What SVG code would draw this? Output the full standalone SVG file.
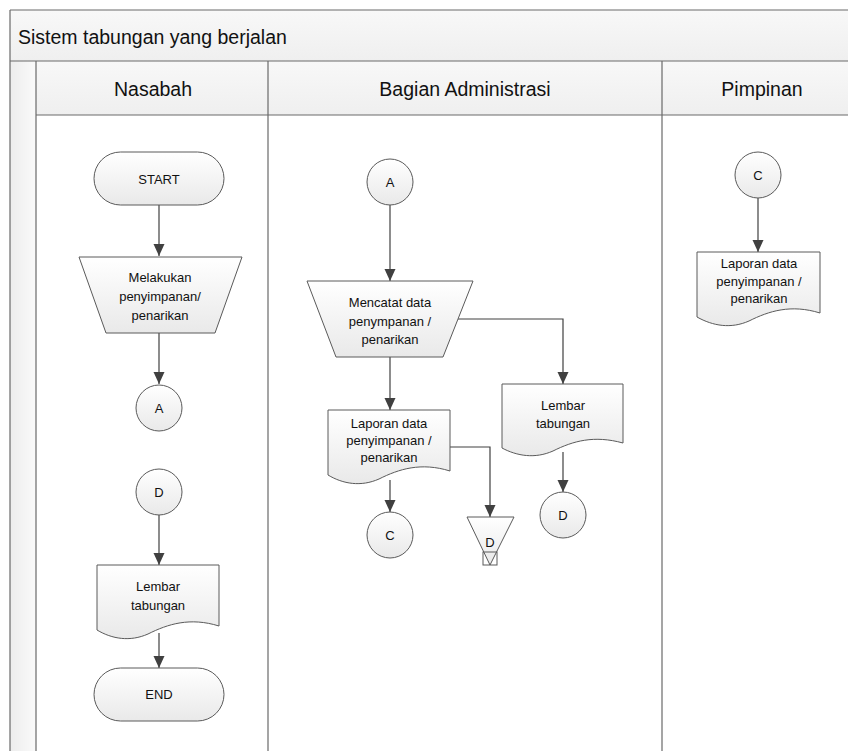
<svg xmlns="http://www.w3.org/2000/svg" width="848" height="751" viewBox="0 0 848 751">
<defs>
<linearGradient id="gShape" x1="0" y1="0" x2="0" y2="1">
<stop offset="0" stop-color="#ffffff"/>
<stop offset="1" stop-color="#e9e9e9"/>
</linearGradient>
<linearGradient id="gBand" x1="0" y1="0" x2="0" y2="1">
<stop offset="0" stop-color="#f8f8f8"/>
<stop offset="1" stop-color="#efefef"/>
</linearGradient>
<linearGradient id="gStrip" x1="0" y1="0" x2="1" y2="0">
<stop offset="0" stop-color="#ededed"/>
<stop offset="1" stop-color="#fafafa"/>
</linearGradient>
<marker id="arr" markerWidth="12" markerHeight="12" refX="12" refY="6" orient="auto" markerUnits="userSpaceOnUse">
<path d="M0,0.5 L12,6 L0,11.5 z" fill="#404040"/>
</marker>
</defs>
<style>
.sh{fill:url(#gShape);stroke:#5a5a5a;stroke-width:1}
.ln{fill:none;stroke:#404040;stroke-width:1.2}
.frame{fill:none;stroke:#6a6a6a;stroke-width:1.2}
.t{font-family:"Liberation Sans",Arial,sans-serif;font-size:13px;fill:#111;text-anchor:middle}
.h{font-family:"Liberation Sans",Arial,sans-serif;font-size:19.5px;fill:#111;text-anchor:middle}
</style>
<rect width="848" height="751" fill="#ffffff"/>
<g id="pool">
<rect x="10" y="10" width="840" height="51" fill="url(#gBand)"/>
<rect x="10" y="61" width="840" height="54" fill="url(#gBand)"/>
<rect x="10" y="61" width="26" height="692" fill="url(#gStrip)"/>
<path class="frame" d="M10,10 H850 M10,61 H850 M36,115 H850 M10,10 V753 M36,61 V753 M268,61 V753 M662,61 V753"/>
<text x="18" y="44" class="h" style="text-anchor:start">Sistem tabungan yang berjalan</text>
<text x="153" y="96" class="h">Nasabah</text>
<text x="465" y="96" class="h">Bagian Administrasi</text>
<text x="762" y="96" class="h">Pimpinan</text>
</g>
<g id="connectors">
<path class="ln" d="M159,205 V256" marker-end="url(#arr)"/>
<path class="ln" d="M159,333 V384" marker-end="url(#arr)"/>
<path class="ln" d="M159,515 V565" marker-end="url(#arr)"/>
<path class="ln" d="M159,633 V668" marker-end="url(#arr)"/>
<path class="ln" d="M390,205 V281" marker-end="url(#arr)"/>
<path class="ln" d="M390,357 V410" marker-end="url(#arr)"/>
<path class="ln" d="M458,319 H563 V384" marker-end="url(#arr)"/>
<path class="ln" d="M390,480 V512" marker-end="url(#arr)"/>
<path class="ln" d="M450,447 H490 V517" marker-end="url(#arr)"/>
<path class="ln" d="M563,452 V492" marker-end="url(#arr)"/>
<path class="ln" d="M758,198 V252" marker-end="url(#arr)"/>
</g>
<g id="start">
<rect class="sh" x="94" y="152" width="130" height="53" rx="26.5"/>
<text class="t" x="159" y="184">START</text>
</g>
<g id="melakukan">
<path class="sh" d="M79,257 H242 L215,333 H106 Z"/>
<text class="t" x="160" y="282">Melakukan</text>
<text class="t" x="160" y="301">penyimpanan/</text>
<text class="t" x="160" y="320">penarikan</text>
</g>
<g id="conA1">
<circle class="sh" cx="159" cy="408" r="23"/>
<text class="t" x="159" y="413">A</text>
</g>
<g id="conD1">
<circle class="sh" cx="159" cy="492" r="23"/>
<text class="t" x="159" y="497">D</text>
</g>
<g id="lembar1">
<path class="sh" d="M97,565 H219 V626 C190,617 168,624 148,634 C130,642 112,639 97,630 Z"/>
<text class="t" x="158" y="591">Lembar</text>
<text class="t" x="158" y="610">tabungan</text>
</g>
<g id="end">
<rect class="sh" x="94" y="668" width="130" height="53" rx="26.5"/>
<text class="t" x="159" y="699">END</text>
</g>
<g id="conA2">
<circle class="sh" cx="390" cy="182" r="23"/>
<text class="t" x="390" y="187">A</text>
</g>
<g id="mencatat">
<path class="sh" d="M307,281 H473 L443,357 H336 Z"/>
<text class="t" x="390" y="307">Mencatat data</text>
<text class="t" x="390" y="326">penympanan /</text>
<text class="t" x="390" y="344">penarikan</text>
</g>
<g id="laporan2">
<path class="sh" d="M328,410 H450 V471 C421,462 399,469 379,479 C361,487 343,484 328,475 Z"/>
<text class="t" x="389" y="428">Laporan data</text>
<text class="t" x="389" y="445">penyimpanan /</text>
<text class="t" x="389" y="462">penarikan</text>
</g>
<g id="lembar2">
<path class="sh" d="M502,384 H623 V443 C594,435 573,441 553,451 C535,459 517,456 502,448 Z"/>
<text class="t" x="563" y="410">Lembar</text>
<text class="t" x="563" y="428">tabungan</text>
</g>
<g id="conC2">
<circle class="sh" cx="390" cy="535" r="23"/>
<text class="t" x="390" y="540">C</text>
</g>
<g id="offD">
<path class="sh" d="M467,517 H514 L490,565 Z"/>
<rect x="483" y="552" width="14" height="13" fill="none" stroke="#5a5a5a" stroke-width="1"/>
<text class="t" x="490" y="547">D</text>
</g>
<g id="conD2">
<circle class="sh" cx="563" cy="515" r="23"/>
<text class="t" x="563" y="520">D</text>
</g>
<g id="conC3">
<circle class="sh" cx="758" cy="175" r="23"/>
<text class="t" x="758" y="180">C</text>
</g>
<g id="laporan3">
<path class="sh" d="M697,252 H820 V313 C791,304 769,311 749,321 C731,329 713,326 697,317 Z"/>
<text class="t" x="759" y="268">Laporan data</text>
<text class="t" x="759" y="286">penyimpanan /</text>
<text class="t" x="759" y="303">penarikan</text>
</g>
</svg>
